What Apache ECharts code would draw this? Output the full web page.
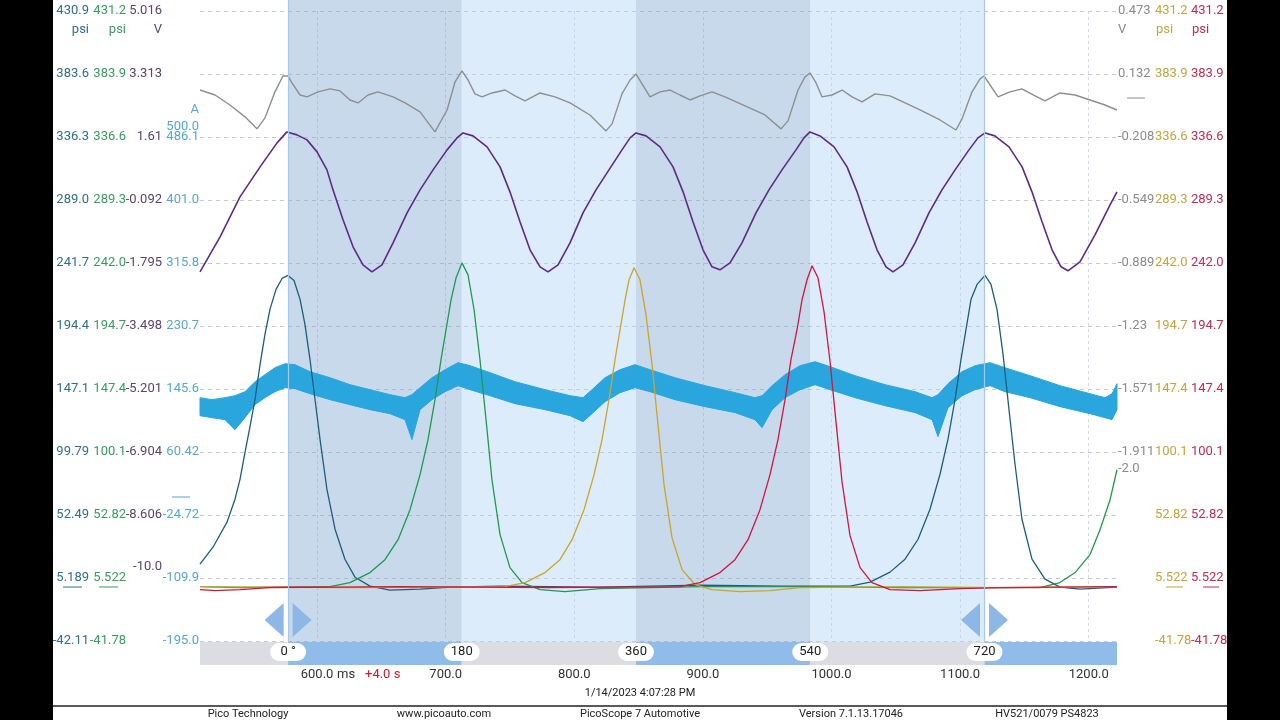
<!DOCTYPE html>
<html>
<head>
<meta charset="utf-8">
<title>PicoScope 7 Automotive capture</title>
<script src="https://cdn.jsdelivr.net/npm/echarts@6/dist/echarts.min.js"></script>
<style>
  html, body { margin: 0; padding: 0; background: #fff; }
  #chart { width: 1280px; height: 720px; }
</style>
</head>
<body>
<div id="chart"></div>
<script>
// time axis in ms, crank ruler (degrees) on top of it
const tMin = 509;
const tMax = 1222;
const timeTicks = [600, 700, 800, 900, 1000, 1100, 1200];
const rulerTimes = [577.5, 712.5, 848, 983.5, 1119];
const rulerLabels = ['0 °', '180', '360', '540', '720'];

// channel scale labels, top to bottom
const tealLabels = ['430.9', '383.6', '336.3', '289.0', '241.7', '194.4', '147.1', '99.79', '52.49', '5.189', '-42.11'];
const greenLabels = ['431.2', '383.9', '336.6', '289.3', '242.0', '194.7', '147.4', '100.1', '52.82', '5.522', '-41.78'];
const purpleLabels = ['5.016', '3.313', '1.61', '-0.092', '-1.795', '-3.498', '-5.201', '-6.904', '-8.606', '-10.0'];
const blueLabels = ['486.1', '401.0', '315.8', '230.7', '145.6', '60.42', '-24.72', '-109.9', '-195.0'];
const blueRangeLabel = '500.0';
const grayLabels = ['0.473', '0.132', '-0.208', '-0.549', '-0.889', '-1.23', '-1.571', '-1.911', '-2.0'];
const oliveLabels = ['431.2', '383.9', '336.6', '289.3', '242.0', '194.7', '147.4', '100.1', '52.82', '5.522', '-41.78'];
const redLabels = ['431.2', '383.9', '336.6', '289.3', '242.0', '194.7', '147.4', '100.1', '52.82', '5.522', '-41.78'];

// channel ranges (screen top / bottom)
const purpleMin = -12.014, purpleMax = 5.016;
const blueMin = -195.0, blueMax = 656.3;
const grayMin = -2.932, grayMax = 0.473;

// traces [ms, value]
const grayTrace = [
  [509, 0.046], [520.7, 0.019], [532.3, -0.035], [544, -0.099], [553.3, -0.164], [559.5, -0.105],
  [567.3, 0.036], [573.5, 0.122], [577.4, 0.122], [580.5, 0.084], [586.8, 0.019], [592.2, 0.009],
  [600.8, 0.036], [610.1, 0.052], [617.9, 0.041], [625.6, -0.008], [631.9, -0.024], [639.6, 0.019],
  [647.4, 0.036], [659.1, 0.009], [668.4, -0.024], [680.1, -0.072], [691.7, -0.180], [701.1, -0.062],
  [707.3, 0.090], [712.7, 0.149], [717.4, 0.100], [722.8, 0.025], [728.3, 0.009], [736, 0.030],
  [746.2, 0.046], [753.9, 0.014], [761.7, -0.013], [773.4, 0.030], [785, 0.009], [796.7, -0.024],
  [812.2, -0.089], [824.7, -0.175], [829.4, -0.137], [837.1, 0.025], [843.4, 0.100], [848, 0.133],
  [852.7, 0.079], [858.9, 0.009], [866.7, 0.036], [874.5, 0.046], [882.2, 0.019], [890, -0.008],
  [897.8, 0.014], [907.1, 0.036], [917.2, 0.009], [932.8, -0.040], [948.3, -0.089], [960.8, -0.164],
  [966.2, -0.121], [974, 0.046], [979.4, 0.117], [983.3, 0.138], [988, 0.084], [992.6, 0.009],
  [1000.4, 0.019], [1008.2, 0.046], [1016, 0.009], [1023.8, -0.018], [1033.9, 0.025], [1045.5, 0.014],
  [1057.2, -0.024], [1068.8, -0.062], [1084.4, -0.116], [1096.8, -0.170], [1101.5, -0.110], [1109.3, 0.036],
  [1115.5, 0.106], [1118.6, 0.122], [1123.3, 0.073], [1129.5, 0.009], [1138.8, 0.036], [1148.1, 0.052],
  [1158.3, 0.014], [1166, -0.013], [1177.7, 0.030], [1189.4, 0.019], [1201, -0.008], [1212.7, -0.035],
  [1222, -0.062]
];

const purpleTrace = [
  [509, -2.034], [524.6, -1.088], [540.1, -0.008], [555.7, 0.802], [568.9, 1.451], [576.6, 1.748],
  [584.4, 1.667], [592.2, 1.532], [600, 1.208], [607.7, 0.721], [612.4, 0.181], [620.2, -0.629],
  [628, -1.359], [635.7, -1.845], [642.7, -2.034], [650.5, -1.845], [659.1, -1.251], [670, -0.440],
  [680.1, 0.181], [690.2, 0.721], [701.1, 1.262], [708.8, 1.586], [713.5, 1.720],
  [721.3, 1.640], [732.2, 1.343], [742.3, 0.802], [750, 0.127], [757.8, -0.683], [765.6, -1.440],
  [773.4, -1.899], [779.6, -2.034], [787.4, -1.845], [796.7, -1.251], [806.8, -0.440], [816.9, 0.181],
  [827, 0.721], [837.1, 1.262], [843.4, 1.586], [848, 1.720],
  [855.8, 1.640], [866.7, 1.343], [876.8, 0.802], [884.6, 0.127], [892.3, -0.683], [900.1, -1.440],
  [907.1, -1.899], [913.3, -1.980], [921.1, -1.791], [930.4, -1.251], [941.3, -0.440], [951.4, 0.181],
  [961.5, 0.721], [972.4, 1.262], [978.6, 1.586], [983.3, 1.748],
  [991.1, 1.640], [1002, 1.343], [1012.1, 0.802], [1019.9, 0.127], [1027.6, -0.683], [1035.4, -1.440],
  [1042.4, -1.899], [1047.8, -2.034], [1055.6, -1.845], [1065, -1.251], [1075.8, -0.440], [1085.9, 0.181],
  [1096.1, 0.721], [1106.9, 1.262], [1113.9, 1.586], [1119.4, 1.720],
  [1127.1, 1.640], [1138, 1.343], [1148.2, 0.802], [1155.9, 0.127], [1163.7, -0.683], [1171.5, -1.440],
  [1178.5, -1.899], [1183.9, -2.007], [1193.2, -1.764], [1204.9, -1.034], [1216.6, -0.224], [1222, 0.127]
];

// current clamp trace: noisy band, upper and lower edge
const blueT = [509, 518.3, 528.4, 536.2, 544, 551.8, 559.5, 567.3, 575.1, 582.9, 594.5, 610.1, 625.6, 641.2,
  656.7, 668.4, 673.8, 680.1, 689.4, 699.5, 709.6, 719, 734.5, 753.9, 777.3, 796.7, 806.8, 813.8, 823.9,
  835.6, 847.2, 858.9, 878.3, 901.7, 925, 940.5, 946, 953.8, 963.9, 975.5, 987.2, 998.9, 1018.3, 1041.6,
  1065, 1078.2, 1082.8, 1090.6, 1101.5, 1111.6, 1123.3, 1134.9, 1154.4, 1177.7, 1201, 1212.7, 1218.1, 1222];
const blueHigh = [133.8, 131.1, 133.8, 136.5, 141.9, 155.4, 164.9, 174.3, 179.7, 178.4, 168.9, 160.8, 151.4, 144.6,
  137.9, 133.8, 137.9, 147.3, 160.8, 171.6, 181.1, 177.0, 167.6, 155.4, 144.6, 136.5, 133.8, 144.6, 160.8,
  171.6, 178.4, 171.6, 160.8, 150.0, 140.6, 133.8, 136.5, 150.0, 164.9, 177.0, 182.4, 175.7, 163.5, 151.4,
  141.9, 133.8, 137.9, 152.7, 168.9, 177.0, 181.1, 174.3, 163.5, 150.0, 139.2, 133.8, 139.2, 152.7];
const blueLow = [109.5, 106.8, 104.1, 90.6, 106.8, 124.4, 133.8, 141.9, 147.3, 146.0, 139.2, 131.1, 124.4, 117.6,
  112.2, 104.1, 77.1, 117.6, 131.1, 141.9, 150.0, 144.6, 136.5, 125.7, 117.6, 109.5, 101.4, 112.2, 128.4,
  140.6, 147.3, 141.9, 131.1, 121.7, 113.6, 104.1, 93.3, 117.6, 133.8, 144.6, 151.4, 144.6, 133.8, 123.0,
  113.6, 104.1, 81.2, 120.3, 136.5, 144.6, 150.0, 141.9, 133.8, 121.7, 112.2, 106.8, 104.1, 117.6];

// cylinder pressures (psi)
const tealTrace = [
  [509, 15.6], [519.1, 28.3], [530, 47.1], [536.2, 64.3], [540.1, 79.3], [544, 99.6], [547.9, 119.1],
  [551.8, 139.4], [555.7, 165.6], [559.5, 188.1], [563.4, 206.9], [568.1, 221.9], [572.8, 230.1],
  [577.4, 232.4], [582.1, 228.6], [586.8, 214.4], [590.6, 195.6], [594.5, 169.4], [598.4, 139.4],
  [602.3, 109.4], [607.7, 71.8], [614, 41.8], [621.7, 19.3], [629.5, 5.8], [641.2, -0.9], [656.7, -3.9],
  [680.1, -3.2], [703.4, -1.7], [742.3, -0.9], [820, -1.7], [897.8, -0.2], [960, -0.9], [1014.4, -0.9],
  [1030, 2.1], [1045.5, 9.6], [1057.2, 19.3], [1067.3, 34.3], [1076.6, 56.8], [1084.4, 83.1],
  [1090.6, 109.4], [1096.1, 139.4], [1100.7, 169.4], [1104.6, 191.9], [1108.5, 214.4], [1113.2, 225.6],
  [1119.4, 232.4], [1124, 225.6], [1128.7, 206.9], [1133.4, 173.1], [1138, 131.9], [1142.7, 90.6],
  [1148.1, 49.3], [1155.9, 19.3], [1166, 4.3], [1177.7, -1.7], [1193.2, -3.2], [1222, -1.7]
];
const greenTrace = [
  [509, -0.9], [540, -1.7], [580, -0.9], [610.1, -0.9], [625.6, 2.1], [641.2, 9.6], [652.8, 19.3],
  [663, 34.3], [672.3, 56.8], [680.1, 83.1], [686.3, 109.4], [691.7, 139.4], [696.4, 169.4],
  [700.3, 191.9], [704.2, 214.4], [708.1, 230.9], [712.7, 242.1], [717.4, 233.1], [722.1, 206.9],
  [726.7, 169.4], [731.4, 124.4], [736, 79.3], [742.3, 38.1], [750, 13.3], [759.4, 2.1], [773.4, -3.2],
  [792.8, -4.7], [820, -2.4], [897.8, -0.9], [975.5, -0.9], [1053.3, -1.7], [1162.1, -1.7],
  [1177.7, 2.1], [1189.4, 9.6], [1201, 23.1], [1208.8, 41.8], [1216.6, 64.3], [1222, 86.8]
];
const oliveTrace = [
  [509, -0.9], [625.6, -1.7], [746.2, -0.9], [761.7, 2.1], [777.3, 9.6], [788.9, 19.3], [798.3, 34.3],
  [807.6, 56.8], [815.4, 83.1], [821.6, 109.4], [827, 139.4], [831.7, 169.4], [835.6, 191.9],
  [839.5, 214.4], [842.6, 229.4], [846.5, 238.4], [851.1, 229.4], [855.8, 203.1], [860.5, 165.6],
  [865.1, 120.6], [869.8, 75.6], [876, 35.8], [883.8, 11.8], [893.9, 0.6], [907.1, -3.2], [928.9, -4.7],
  [952.2, -3.9], [975.5, -1.7], [1053.3, -0.9], [1131, -1.7], [1222, -0.9]
];
const redTrace = [
  [509, -3.2], [520.7, -3.9], [540.1, -3.2], [563.4, -1.7], [664.5, -0.9], [781.1, -1.7], [882.2, -0.9],
  [897.8, 2.1], [913.3, 9.6], [925, 19.3], [935.1, 34.3], [944.4, 56.8], [952.2, 83.1], [958.4, 109.4],
  [963.9, 139.4], [968.5, 169.4], [973.2, 191.9], [977.1, 214.4], [981, 229.4], [984.9, 239.9],
  [989.5, 230.9], [994.2, 205.4], [998.9, 167.9], [1003.5, 122.9], [1008.2, 77.8], [1014.4, 37.3],
  [1022.2, 13.3], [1031.5, 2.1], [1045.5, -3.2], [1068.8, -3.9], [1099.9, -2.4], [1131, -1.7], [1222, -0.9]
];

const C = {
  teal: '#1b5e7b', green: '#1e9a4c', purple: '#5d2b85', blue: '#2aa6df',
  gray: '#8f8f8f', olive: '#cba52a', red: '#d2143e'
};
const L = {
  teal: '#2f6f8c', green: '#3b9a5e', purple: '#5c4468', blue: '#55a8cd',
  gray: '#8b8b8b', olive: '#c3a43d', red: '#c42b50'
};

function chanAxis(labels, min, max, color, position, offset) {
  const vals = labels.map(Number);
  return {
    type: 'value', position, offset, min, max,
    axisLine: { show: false }, axisTick: { show: false }, splitLine: { show: false },
    axisLabel: {
      customValues: vals, hideOverlap: false,
      color, fontSize: 13, margin: 1,
      formatter: v => {
        let best = 0;
        vals.forEach((t, i) => { if (Math.abs(t - v) < Math.abs(vals[best] - v)) best = i; });
        return labels[best];
      }
    }
  };
}

// shaded crank sectors and ruler bar
const darkBand = 'rgba(131,171,208,0.45)';
const lightBand = 'rgba(179,213,244,0.45)';
const rulerBlue = '#8fbce9';
const rulerGray = '#dcdde2';
const areas = [];
for (let i = 0; i < rulerTimes.length - 1; i++) {
  areas.push([{ xAxis: rulerTimes[i], y: 0, itemStyle: { color: i % 2 ? lightBand : darkBand } },
              { xAxis: rulerTimes[i + 1], y: 642 }]);
}
const rulerEdges = [tMin].concat(rulerTimes, [tMax]);
for (let i = 0; i < rulerEdges.length - 1; i++) {
  areas.push([{ xAxis: rulerEdges[i], y: 642, itemStyle: { color: i % 2 ? rulerBlue : rulerGray } },
              { xAxis: rulerEdges[i + 1], y: 665 }]);
}

const pill = 'path://M9,0 H27 A9,9 0 0 1 27,18 H9 A9,9 0 0 1 9,0 Z';
const points = rulerTimes.map((t, i) => ({
  name: rulerLabels[i], xAxis: t, y: 652, symbol: pill, symbolSize: [36, 18],
  itemStyle: { color: '#ffffff' },
  label: { show: true, position: 'inside', formatter: '{b}', color: '#222', fontSize: 13 }
}));
[rulerTimes[0], rulerTimes[rulerTimes.length - 1]].forEach(t => {
  points.push({ xAxis: t, y: 620, symbol: 'triangle', symbolSize: [34, 19], symbolRotate: 90, symbolOffset: [-14, 0], itemStyle: { color: '#8db7e5' } });
  points.push({ xAxis: t, y: 620, symbol: 'triangle', symbolSize: [34, 19], symbolRotate: -90, symbolOffset: [14, 0], itemStyle: { color: '#8db7e5' } });
});

const lineOf = (data, yAxisIndex, color, width) => ({
  type: 'line', data, yAxisIndex, symbol: 'none', silent: true,
  lineStyle: { color, width }
});

const chart = echarts.init(document.getElementById('chart'));
const txt = (text, x, y, fill, align, size) => ({
  type: 'text', x, y, silent: true,
  style: { text, fill, font: (size || 13) + 'px Roboto', textAlign: align || 'left', textVerticalAlign: 'middle' }
});
const seg = (x1, y1, x2, y2, stroke, w) => ({
  type: 'line', silent: true, shape: { x1, y1, x2, y2 }, style: { stroke, lineWidth: w || 1 }
});

chart.setOption({
  animation: false,
  backgroundColor: '#ffffff',
  textStyle: { fontFamily: 'Roboto' },
  grid: { left: 200, right: 163, top: 11, bottom: 79, outerBoundsMode: 'none' },
  xAxis: {
    type: 'value', min: tMin, max: tMax,
    axisLine: { show: false },
    axisTick: { show: false, customValues: timeTicks },
    axisLabel: { customValues: timeTicks, formatter: v => v.toFixed(1), color: '#333', fontSize: 13, margin: 27 },
    splitLine: { show: true, lineStyle: { color: '#d3d9e1', type: [3, 3] } }
  },
  yAxis: [
    chanAxis(tealLabels, -42.11, 430.9, L.teal, 'left', 110),
    chanAxis(greenLabels, -41.78, 431.2, L.green, 'left', 73),
    chanAxis(purpleLabels, purpleMin, purpleMax, L.purple, 'left', 37),
    chanAxis(blueLabels, blueMin, blueMax, L.blue, 'left', 0),
    chanAxis(grayLabels, grayMin, grayMax, L.gray, 'right', 0),
    chanAxis(oliveLabels, -41.78, 431.2, L.olive, 'right', 37),
    chanAxis(redLabels, -41.78, 431.2, L.red, 'right', 73),
    {
      type: 'value', min: 0, max: 10, interval: 1, position: 'left',
      axisLine: { show: false }, axisTick: { show: false }, axisLabel: { show: false },
      splitLine: { show: true, lineStyle: { color: '#c9c9c9', type: [4, 4] } }
    }
  ],
  series: [
    {
      type: 'line', data: [], yAxisIndex: 7, clip: false, silent: true,
      markArea: { silent: true, label: { show: false }, data: areas },
      markLine: {
        silent: true, symbol: ['none', 'none'], label: { show: false },
        lineStyle: { color: '#a8c8e8', width: 1.2, type: 'solid' },
        data: [rulerTimes[0], rulerTimes[rulerTimes.length - 1]].map(t => [{ xAxis: t, y: 0 }, { xAxis: t, y: 642 }])
      },
      markPoint: { silent: true, label: { show: false }, data: points }
    },
    lineOf(grayTrace, 4, C.gray, 1.4),
    lineOf(purpleTrace, 2, C.purple, 1.6),
    {
      // band between the lower and upper edge of the noisy current trace
      type: 'custom', yAxisIndex: 3, silent: true,
      data: blueT.map((t, i) => [t, blueLow[i], blueHigh[i]]),
      encode: { x: 0, y: [1, 2] },
      renderItem: (params, api) => {
        if (params.dataIndex !== 0) return null;
        const top = blueT.map((t, i) => api.coord([t, blueHigh[i]]));
        const bottom = blueT.map((t, i) => api.coord([t, blueLow[i]])).reverse();
        return {
          type: 'polygon',
          shape: { points: top.concat(bottom) },
          style: { fill: C.blue, stroke: C.blue, lineWidth: 1 }
        };
      }
    },
    lineOf(tealTrace, 0, C.teal, 1.3),
    lineOf(greenTrace, 1, C.green, 1.3),
    lineOf(oliveTrace, 5, C.olive, 1.3),
    lineOf(redTrace, 6, C.red, 1.3)
  ],
  graphic: [
    { type: 'rect', silent: true, shape: { x: 0, y: 0, width: 53, height: 720 }, style: { fill: '#000' } },
    { type: 'rect', silent: true, shape: { x: 1227, y: 0, width: 53, height: 720 }, style: { fill: '#000' } },
    txt('psi', 89, 30, L.teal, 'right'),
    txt('psi', 126, 30, L.green, 'right'),
    txt('V', 162, 30, L.purple, 'right'),
    txt('A', 199, 110, L.blue, 'right'),
    txt(blueRangeLabel, 199, 127, L.blue, 'right'),
    txt('V', 1118, 30, L.gray, 'left'),
    txt('psi', 1156, 30, L.olive, 'left'),
    txt('psi', 1192, 30, L.red, 'left'),
    seg(63, 587, 82, 587, L.teal),
    seg(99, 587, 118, 587, L.green),
    seg(1166, 587, 1183, 587, L.olive),
    seg(1203, 587, 1219, 587, L.red),
    seg(172, 497, 190, 497, L.blue),
    seg(1127, 98, 1145, 98, L.gray),
    txt('ms', 337, 675, '#333', 'left'),
    txt('+4.0 s', 365, 675, '#c0202a', 'left'),
    txt('1/14/2023 4:07:28 PM', 640, 693, '#222', 'center', 11),
    seg(53, 706, 1227, 706, '#222', 1.5),
    txt('Pico Technology', 248, 714, '#222', 'center', 11),
    txt('www.picoauto.com', 444, 714, '#222', 'center', 11),
    txt('PicoScope 7 Automotive', 640, 714, '#222', 'center', 11),
    txt('Version 7.1.13.17046', 851, 714, '#222', 'center', 11),
    txt('HV521/0079 PS4823', 1047, 714, '#222', 'center', 11)
  ]
});
</script>
</body>
</html>
